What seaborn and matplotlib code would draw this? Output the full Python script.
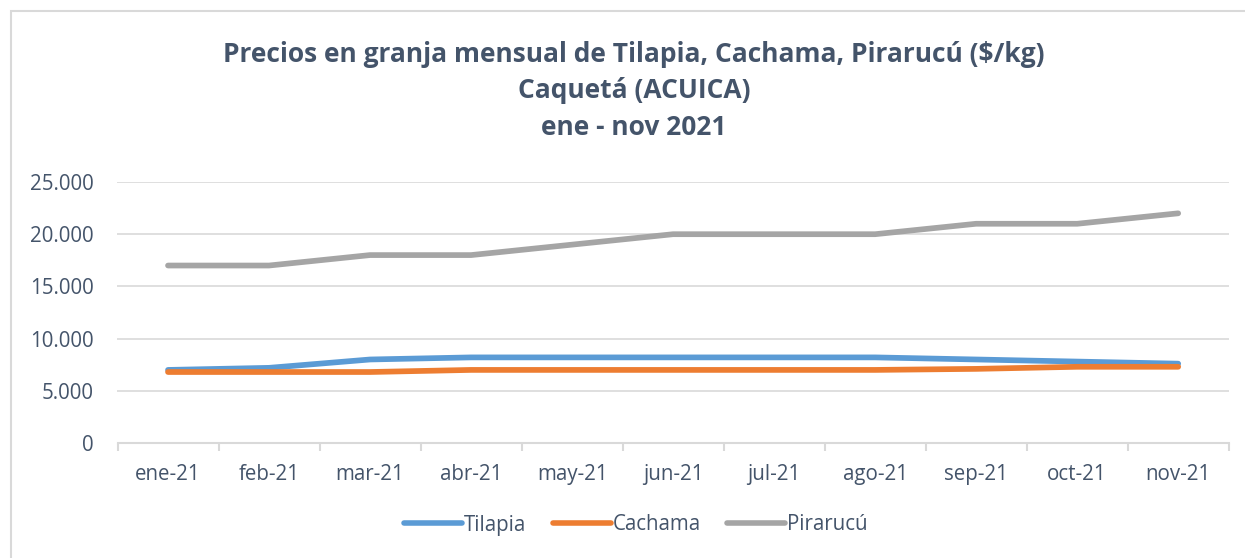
import matplotlib
matplotlib.use("Agg")
import matplotlib.pyplot as plt
import matplotlib.ticker as mticker
from matplotlib.patches import Rectangle
from matplotlib.lines import Line2D
import seaborn as sns
import pandas as pd

months = ["ene-21", "feb-21", "mar-21", "abr-21", "may-21", "jun-21",
          "jul-21", "ago-21", "sep-21", "oct-21", "nov-21"]
tilapia = [7000, 7200, 8000, 8200, 8200, 8200, 8200, 8200, 8000, 7800, 7600]
cachama = [6800, 6800, 6800, 7000, 7000, 7000, 7000, 7000, 7100, 7300, 7300]
pirarucu = [17000, 17000, 18000, 18000, 19000, 20000, 20000, 20000, 21000, 21000, 22000]
series_names = ["Tilapia", "Cachama", "Pirarucú"]
colors = ["#5B9BD5", "#ED7D31", "#A5A5A5"]
title_lines = ["Precios en granja mensual de Tilapia, Cachama, Pirarucú ($/kg)",
               "Caquetá (ACUICA)", "ene - nov 2021"]

df = pd.DataFrame({
    "mes": months * 3,
    "precio": tilapia + cachama + pirarucu,
    "serie": [series_names[0]] * 11 + [series_names[1]] * 11 + [series_names[2]] * 11,
})

sns.set_theme(style="white")
plt.rcParams["font.family"] = ["Open Sans", "DejaVu Sans"]

W, H = 1245, 558
fig = plt.figure(figsize=(W / 100, H / 100), dpi=100)
ax = fig.add_axes([117.5 / W, 1 - 443 / H, (1228.7 - 117.5) / W, (443 - 182) / H])

text_color = "#44546A"
grid_color = "#D9D9D9"

sns.lineplot(data=df, x="mes", y="precio", hue="serie", hue_order=series_names,
             palette=colors, linewidth=4.1, sort=False, ax=ax, legend=False)
for ln in ax.lines:
    ln.set_solid_capstyle("round")

ax.set_xlim(-0.5, 10.5)
ax.set_ylim(0, 25000)
ax.set_yticks(range(0, 25001, 5000))
ax.yaxis.set_major_formatter(mticker.FuncFormatter(lambda v, p: f"{v:,.0f}".replace(",", ".")))
ax.set_xlabel("")
ax.set_ylabel("")
ax.grid(axis="y", color=grid_color, linewidth=1.2)
ax.grid(axis="x", visible=False)
ax.set_axisbelow(True)
for s in ["left", "right", "top"]:
    ax.spines[s].set_visible(False)
ax.spines["bottom"].set_color(grid_color)
ax.spines["bottom"].set_linewidth(1.5)
ax.spines["bottom"].set_zorder(0)

ax.xaxis.set_minor_locator(mticker.FixedLocator([i - 0.5 for i in range(12)]))
ax.tick_params(axis="x", which="major", length=0, pad=15, labelsize=14.8, labelcolor=text_color)
ax.tick_params(axis="x", which="minor", length=6, width=1.5, color=grid_color, bottom=True)
ax.tick_params(axis="y", length=0, pad=17, labelsize=14.8, labelcolor=text_color)

# Title lines
for txt, yc in zip(title_lines, [55, 91, 128]):
    fig.text(634 / W, 1 - yc / H, txt, ha="center", va="center", fontsize=19,
             fontweight="bold", color=text_color)

# Legend
handles = [Line2D([0], [0], color=c, linewidth=4, solid_capstyle="round") for c in colors]
fig.legend(handles, series_names, loc="center", bbox_to_anchor=(636 / W, 1 - 525 / H),
           ncol=3, frameon=False, fontsize=14.8, labelcolor=text_color,
           handlelength=2.8, handletextpad=0.1, columnspacing=1.3)

# Chart border
fig.patches.append(Rectangle((11 / W, -0.1), 1.2, 1 - 11 / H + 0.1, transform=fig.transFigure,
                             fill=False, edgecolor=grid_color, linewidth=1.5, zorder=0))

fig.savefig("out.png", dpi=100, facecolor="white")
